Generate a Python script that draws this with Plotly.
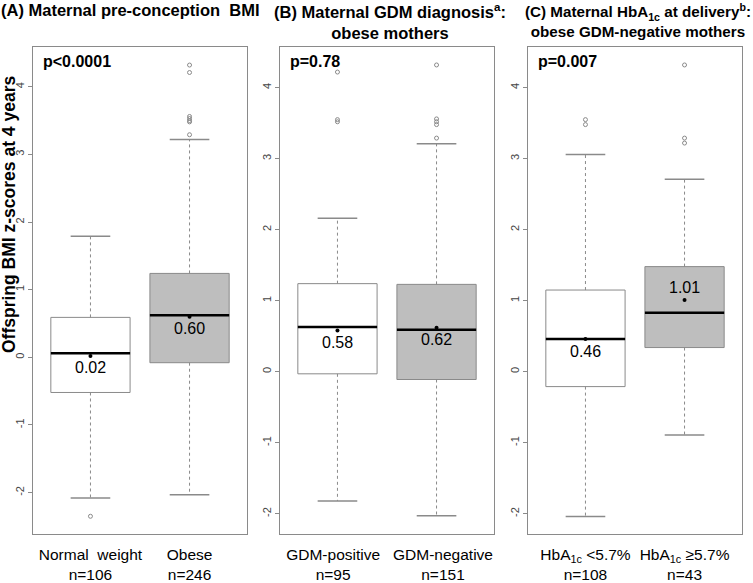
import plotly.graph_objects as go

W, H = 753, 583
FONT = "Liberation Sans, Arial, sans-serif"
NB = "\u00a0"

# ---------------- data ----------------
# Panel A: maternal pre-conception BMI
cats_a = ["Normal  weight", "Obese"]
n_a = [106, 246]
q1_a = [-0.52, -0.08]
med_a = [0.06, 0.62]
q3_a = [0.59, 1.24]
lo_a = [-2.08, -2.03]
hi_a = [1.79, 3.22]
mean_a = [0.02, 0.60]
out_a = [[-2.35], [3.29, 3.48, 3.50, 3.53, 3.56, 4.21, 4.32]]
p_a = "p<0.0001"

# Panel B: maternal GDM diagnosis, obese mothers
cats_b = ["GDM-positive", "GDM-negative"]
n_b = [95, 151]
q1_b = [-0.03, -0.11]
med_b = [0.63, 0.59]
q3_b = [1.24, 1.23]
lo_b = [-1.82, -2.03]
hi_b = [2.16, 3.21]
mean_b = [0.58, 0.62]
out_b = [[3.52, 3.55, 4.22], [3.29, 3.48, 3.52, 3.56, 4.32]]
p_b = "p=0.78"

# Panel C: maternal HbA1c at delivery, obese GDM-negative mothers
cats_c = ["HbA<sub>1c</sub> &lt;5.7%", "HbA<sub>1c</sub> ≥5.7%"]
n_c = [108, 43]
q1_c = [-0.21, 0.34]
med_c = [0.46, 0.83]
q3_c = [1.15, 1.48]
lo_c = [-2.04, -0.89]
hi_c = [3.06, 2.71]
mean_c = [0.46, 1.01]
out_c = [[3.48, 3.55], [3.22, 3.29, 4.32]]
p_c = "p=0.007"

y_ticks = [-2, -1, 0, 1, 2, 3, 4]

titles = [
    "(A) Maternal pre-conception  BMI",
    "(B) Maternal GDM diagnosis<sup>a</sup>:<br>obese mothers",
    "(C) Maternal HbA<sub>1c</sub> at delivery<sup>b</sup>:<br>obese GDM-negative mothers",
]
y_title = "Offspring BMI z-scores at 4 years"

# ---------------- styling ----------------
fills = ["white", "#bebebe"]
GRAY = "#8a8a8a"
BOX_HALF = 0.4
CAP_HALF = 0.2
label_side = [[-1, -1], [-1, -1], [-1, 1]]  # -1 below mean, +1 above
# visual padding (non-breaking spaces) of category labels: (leading, trailing)
label_pad = [[(0, 0), (0, 0)], [(0, 2), (3, 0)], [(0, 0), (0, 0)]]

panels = [
    dict(cats=cats_a, n=n_a, q1=q1_a, med=med_a, q3=q3_a, lo=lo_a, hi=hi_a,
         mean=mean_a, out=out_a, p=p_a, yr=[-2.612, 4.587]),
    dict(cats=cats_b, n=n_b, q1=q1_b, med=med_b, q3=q3_b, lo=lo_b, hi=hi_b,
         mean=mean_b, out=out_b, p=p_b, yr=[-2.286, 4.573]),
    dict(cats=cats_c, n=n_c, q1=q1_c, med=med_c, q3=q3_c, lo=lo_c, hi=hi_c,
         mean=mean_c, out=out_c, p=p_c, yr=[-2.286, 4.573]),
]

x_dom_px = [(33, 247), (280, 494), (528, 742)]
y_dom = [1 - 534 / H, 1 - 47 / H]
title_cx = [130, 390, 638]
title_size = [16.5, 16.5, 15.2]

fig = go.Figure()
annotations = []
layout = dict(
    width=W, height=H,
    margin=dict(l=0, r=0, t=0, b=0, autoexpand=False),
    paper_bgcolor="white", plot_bgcolor="white",
    showlegend=False,
    font=dict(family=FONT, color="black"),
)

for k, P in enumerate(panels):
    sfx = "" if k == 0 else str(k + 1)
    xa, ya = "x" + sfx, "y" + sfx
    for i in range(len(P["cats"])):
        c = i + 1
        # box body
        fig.add_trace(go.Scatter(
            x=[c - BOX_HALF, c + BOX_HALF, c + BOX_HALF, c - BOX_HALF, c - BOX_HALF],
            y=[P["q1"][i], P["q1"][i], P["q3"][i], P["q3"][i], P["q1"][i]],
            mode="lines", fill="toself", fillcolor=fills[i],
            line=dict(color=GRAY, width=1), hoverinfo="skip",
            xaxis=xa, yaxis=ya))
        # whiskers (dashed)
        fig.add_trace(go.Scatter(
            x=[c, c, None, c, c],
            y=[P["q3"][i], P["hi"][i], None, P["q1"][i], P["lo"][i]],
            mode="lines", line=dict(color=GRAY, width=1, dash="3px,3px"),
            hoverinfo="skip", xaxis=xa, yaxis=ya))
        # caps
        fig.add_trace(go.Scatter(
            x=[c - CAP_HALF, c + CAP_HALF, None, c - CAP_HALF, c + CAP_HALF],
            y=[P["hi"][i], P["hi"][i], None, P["lo"][i], P["lo"][i]],
            mode="lines", line=dict(color=GRAY, width=1.5),
            hoverinfo="skip", xaxis=xa, yaxis=ya))
        # median
        fig.add_trace(go.Scatter(
            x=[c - BOX_HALF, c + BOX_HALF], y=[P["med"][i], P["med"][i]],
            mode="lines", line=dict(color="black", width=2.5),
            hoverinfo="skip", xaxis=xa, yaxis=ya))
        # mean dot
        fig.add_trace(go.Scatter(
            x=[c], y=[P["mean"][i]], mode="markers",
            marker=dict(color="black", size=4),
            hoverinfo="skip", xaxis=xa, yaxis=ya))
        # outliers
        fig.add_trace(go.Scatter(
            x=[c] * len(P["out"][i]), y=P["out"][i], mode="markers",
            marker=dict(symbol="circle-open", color=GRAY, size=4,
                        line=dict(width=1, color=GRAY)),
            hoverinfo="skip", xaxis=xa, yaxis=ya))
        # mean label
        side = label_side[k][i]
        annotations.append(dict(
            x=c, y=P["mean"][i], xref=xa, yref=ya,
            text=f"{P['mean'][i]:.2f}", showarrow=False,
            font=dict(size=16, color="black", family=FONT),
            yanchor="middle", xanchor="center",
            yshift=12 if side > 0 else -12))

    ticktext = []
    for i, (t, n) in enumerate(zip(P["cats"], P["n"])):
        a, b = label_pad[k][i]
        ticktext.append(f"{NB * a}{t}{NB * b}<br>{NB * a}n={n}{NB * b}")

    x0, x1 = x_dom_px[k]
    layout["xaxis" + sfx] = dict(
        domain=[x0 / W, x1 / W], range=[0.42, 2.58], anchor=ya,
        tickvals=[1, 2], ticktext=ticktext,
        ticks="", tickangle=0, ticklabelstandoff=6, automargin=False,
        tickfont=dict(size=15.5, color="black", family=FONT),
        showgrid=False, zeroline=False,
        showline=True, linecolor=GRAY, linewidth=1, mirror=True,
        fixedrange=True)
    layout["yaxis" + sfx] = dict(
        domain=y_dom, range=P["yr"], anchor=xa,
        tickvals=y_ticks, ticktext=[str(t) for t in y_ticks],
        tickangle=-90, ticks="outside", ticklen=4, tickcolor=GRAY,
        automargin=False,
        tickfont=dict(size=11, color="#444444", family=FONT),
        showgrid=False, zeroline=False,
        showline=True, linecolor=GRAY, linewidth=1, mirror=True,
        fixedrange=True)

    # p-value
    annotations.append(dict(
        x=0, y=1, xref=xa + " domain", yref=ya + " domain",
        text=f"<b>{P['p']}</b>", showarrow=False,
        xanchor="left", yanchor="top", xshift=8, yshift=-4,
        font=dict(size=16, color="black", family=FONT)))

    # panel title
    annotations.append(dict(
        x=title_cx[k] / W, y=1, xref="paper", yref="paper",
        text=f"<b>{titles[k]}</b>", showarrow=False,
        xanchor="center", yanchor="top", align="center", yshift=1,
        font=dict(size=title_size[k], color="black", family=FONT)))

# y-axis title
annotations.append(dict(
    x=9 / W, y=1 - 215 / H, xref="paper", yref="paper",
    text=f"<b>{y_title}</b>", showarrow=False, textangle=-90,
    xanchor="center", yanchor="middle",
    font=dict(size=17.5, color="black", family=FONT)))

layout["annotations"] = annotations
fig.update_layout(**layout)
fig.write_html(
    "out.html",
    config={"displayModeBar": False},
    post_script="document.body.style.margin='0';document.body.style.padding='0';",
)
